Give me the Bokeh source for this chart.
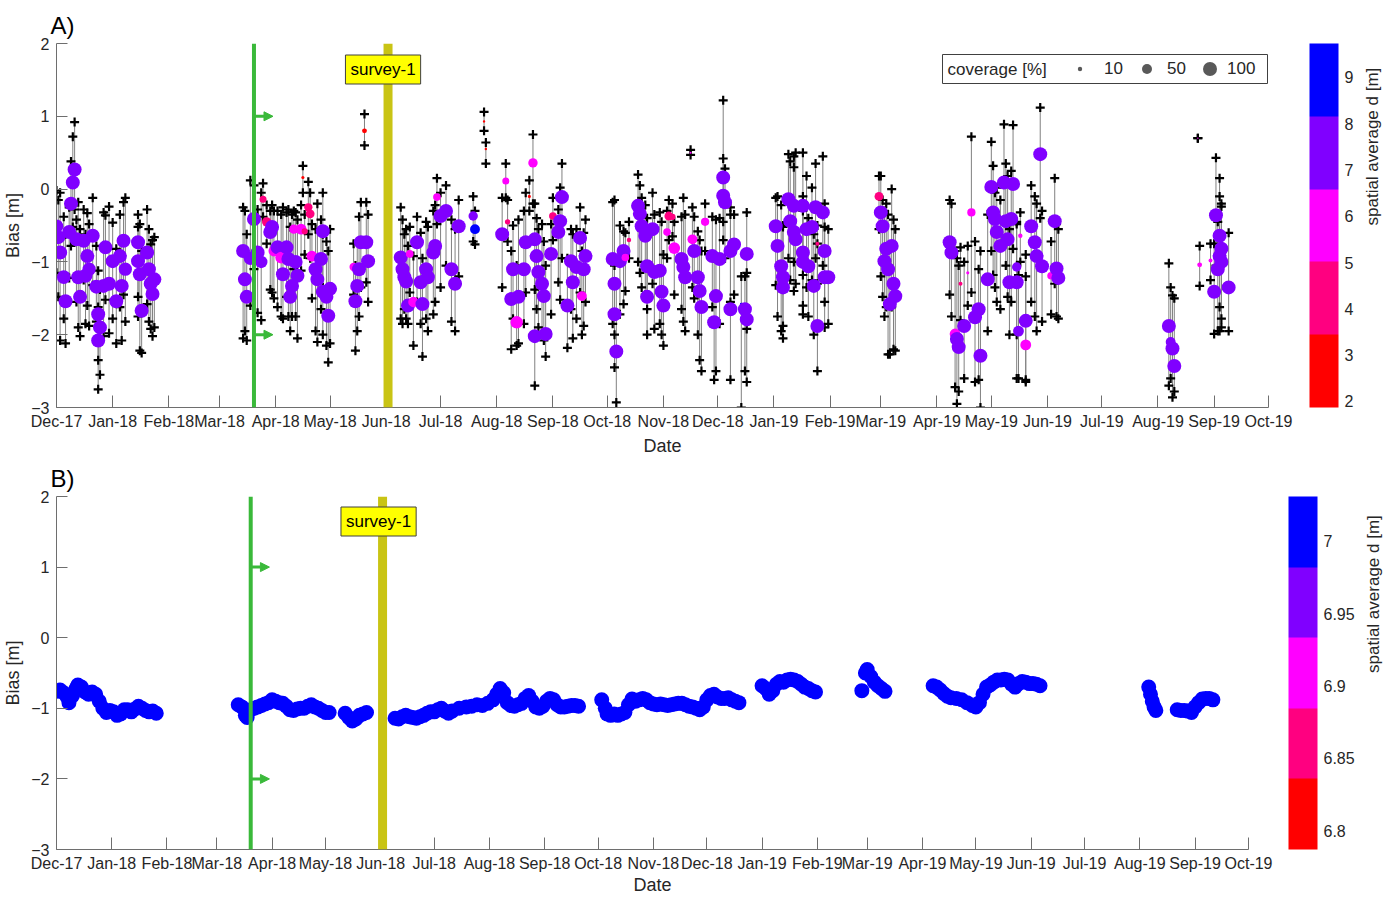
import numpy as np
import pandas as pd
from bokeh.plotting import figure
from bokeh.layouts import column
from bokeh.models import (ColumnDataSource, Range1d, FixedTicker, DatetimeTickFormatter,
                          LinearColorMapper, ColorBar, Span, Arrow, NormalHead, Label,
                          BoxAnnotation, Legend, LegendItem, PrintfTickFormatter, LinearAxis)
from bokeh.embed import file_html
from bokeh.resources import INLINE

# ------------------------------------------------------------------ data
BASE_DATE = "2017-12-01"          # day offsets below count from this date
X_START, X_END = "2017-12-01", "2019-10-01"
MONTH_TICKS = ["2017-12-01", "2018-01-01", "2018-02-01", "2018-03-01", "2018-04-01",
               "2018-05-01", "2018-06-01", "2018-07-01", "2018-08-01", "2018-09-01",
               "2018-10-01", "2018-11-01", "2018-12-01", "2019-01-01", "2019-02-01",
               "2019-03-01", "2019-04-01", "2019-05-01", "2019-06-01", "2019-07-01",
               "2019-08-01", "2019-09-01", "2019-10-01"]
Y_TICKS = [-3, -2, -1, 0, 1, 2]
GREEN_DATE = "2018-03-20"
SURVEY_DATE = "2018-06-02"
SURVEY_TEXT = "survey-1"
ARROW_LEVELS = [1, -2]

# Panel A: one entry per estimate
A_DAY = [0, 1, 2, 4, 5, 7, 8, 9, 10, 11, 12, 13, 15, 16, 17, 18, 20, 22, 23, 24, 23, 26, 27, 29, 31, 33, 35, 36, 37, 38, 45, 45, 46, 47, 50, 51, 52, 53, 54,
         103, 104, 105, 107, 109, 111, 113, 114, 116, 118, 119, 120, 122, 124, 125, 127, 128, 129, 130, 131, 132, 133, 135, 136, 137, 139, 140, 141, 143, 144, 146, 147, 147, 149, 150, 151,
         164, 165, 166, 167, 168, 170, 171, 172,
         190, 191, 192, 193, 194, 195, 197, 199, 201, 202, 204, 205, 208, 209, 210, 212, 215, 218, 220, 222,
         230, 231, 236, 237,
         246, 248, 249, 251, 252, 254, 255, 258, 259, 261, 263, 264, 264, 265, 266, 268, 269, 270, 273, 274, 277, 278, 279, 282, 284, 285, 287, 289, 290, 291, 292,
         307, 308, 308, 309, 311, 313, 314, 316, 321, 322, 323, 325, 326, 326, 329, 330, 333, 334, 335, 337, 338, 340, 341, 345, 346, 347, 350, 351, 352, 354, 355, 356, 358, 362, 364, 363, 366, 368, 368, 369, 372, 372, 374, 378, 380, 381, 381,
         397, 398, 400, 401, 401, 404, 405, 407, 407, 408, 412, 412, 412, 414, 415, 417, 419, 420, 418, 420, 423, 424, 424, 426,
         454, 455, 456, 457, 458, 459, 460, 461, 462, 463,
         493, 494, 496, 497, 498, 499, 501, 503, 505, 507, 509, 510, 514, 516, 517, 518, 519, 521, 523, 524, 525, 526, 527, 528, 530, 530, 531, 532, 535, 535, 538, 540, 541, 543, 544, 549, 551, 552, 553,
         614, 615, 616, 617,
         630, 631, 637, 639, 640, 641, 642, 642, 643, 643, 647]
A_BIAS = [-0.51, -0.66, -0.87, -1.21, -1.54, -0.59, -0.20, 0.09, 0.27, -0.69, -1.21, -1.48, -0.71, -1.19, -0.92, -1.10, -0.64, -1.34, -1.72, -1.90, -2.08, -1.33, -0.80, -1.30, -0.99, -1.54, -0.92, -1.33, -0.71, -1.10, -0.73, -0.99, -1.17, -1.67, -0.87, -1.10, -1.30, -1.44, -1.24,
          -0.85, -1.24, -1.48, -0.95, -0.41, -0.87, -1.00, -0.14, -0.45, -0.59, -0.52, -0.85, -0.80, -0.94, -1.17, -0.80, -0.96, -1.48, -1.33, -0.55, -1.00, -1.19, -0.55, 0.16, -0.58, -0.25, -0.34, -0.92, -1.10, -1.24, -0.96, -0.58, -1.41, -1.48, -1.74, -1.37,
          -1.07, -1.54, -1.33, -1.10, -0.73, 0.80, -0.73, -0.99,
          -0.94, -1.10, -1.21, -1.27, -1.60, -0.89, -1.55, -0.73, -1.28, -1.58, -1.10, -1.21, -0.87, -0.78, -0.11, -0.37, -0.30, -1.10, -1.30, -0.51,
          -0.37, -0.55, 0.93, 0.55,
          -0.62, 0.11, -0.45, -1.51, -1.10, -1.83, -1.48, -1.10, -0.73, -0.10, 0.36, -2.02, -0.69, -0.92, -1.14, -1.30, -1.47, -1.99, -0.89, -0.37, -0.59, -0.44, -0.11, -1.60, -0.99, -1.28, -1.07, -0.67, -1.47, -1.10, -0.92,
          -0.96, -1.30, -1.72, -2.23, -0.99, -0.85, -0.94, -0.70, -0.23, -0.34, -0.51, -0.64, -1.06, -1.48, -0.55, -1.14, -1.12, -1.41, -1.60, -0.59, -0.37, -0.38, -0.81, -0.96, -1.07, -1.21, 0.50, -0.69, -0.85, -1.21, -1.40, -1.62, -0.45, -0.92, -1.47, -1.83, -0.96, -0.09, 0.16, -0.18, -1.65, -0.85, -0.76, -1.58, -1.65, -0.89, -1.79,
          -0.51, -0.78, -1.06, -1.21, -1.35, -0.14, -0.44, -0.23, -0.59, -0.69, -0.23, -0.87, -1.00, -0.55, -1.06, -0.52, -0.25, -0.75, -1.33, -1.88, -0.32, -0.85, -1.21, -1.21,
          -0.10, -0.32, -0.51, -0.99, -0.82, -1.10, -1.58, -0.78, -1.30, -1.47,
          -0.73, -0.87, -1.99, -2.06, -2.17, -1.30, -1.88, -1.15, -0.32, -1.76, -1.65, -2.29, -1.24, 0.03, -0.32, -0.41, -0.59, -0.78, 0.09, -0.44, -0.69, -1.28, -0.41, 0.07, -1.07, -1.28, -1.95, -0.64, -1.81, -2.14, -0.51, -0.73, -0.92, 0.48, -1.06, -1.19, -0.44, -1.09, -1.22,
          -1.88, -2.10, -2.19, -2.43,
          0.70, -1.04, -0.98, -1.41, -0.36, -1.10, -0.64, -0.92, -0.82, -1.00, -1.35]
A_LO = [-1.15, -1.48, -2.08, -1.78, -2.12, -1.22, -0.78, -0.52, -0.28, -1.55, -1.90, -2.02, -1.25, -1.85, -1.60, -1.88, -1.32, -1.82, -2.35, -2.55, -2.75, -2.02, -1.52, -1.98, -1.78, -2.12, -1.62, -2.08, -1.45, -1.82, -1.48, -1.75, -2.22, -2.25, -1.58, -1.82, -1.92, -2.02, -1.90,
        -2.05, -1.95, -2.08, -1.60, -1.10, -1.70, -1.80, -0.38, -0.75, -1.38, -1.42, -1.50, -1.62, -1.75, -1.78, -1.48, -1.75, -1.95, -1.75, -1.10, -1.75, -2.05, -1.12, -0.05, -0.90, -0.62, -0.95, -1.50, -1.95, -2.10, -1.65, -1.35, -2.00, -2.15, -2.38, -2.12,
        -1.45, -2.22, -1.95, -1.75, -1.35, 0.60, -1.28, -1.55,
        -1.78, -1.85, -1.65, -1.78, -1.85, -1.42, -2.15, -1.55, -1.85, -2.30, -1.78, -1.95, -1.72, -1.55, -0.48, -1.35, -1.05, -1.82, -1.95, -1.20,
        -0.72, -0.76, 0.80, 0.35,
        -1.35, -0.12, -0.72, -2.20, -1.78, -2.15, -2.12, -1.85, -1.42, -0.30, -0.20, -2.70, -1.38, -1.65, -1.90, -2.00, -2.08, -2.30, -1.72, -0.70, -1.28, -1.52, -0.95, -2.18, -1.65, -2.05, -1.78, -1.42, -2.00, -1.88, -1.55,
        -1.85, -2.00, -2.45, -2.93, -1.72, -1.58, -1.40, -0.95, -1.00, -1.15, -1.35, -1.45, -1.65, -2.00, -1.30, -1.92, -1.85, -2.00, -2.15, -0.95, -0.70, -0.65, -1.45, -1.65, -1.82, -1.95, 0.47, -1.35, -1.50, -2.00, -2.35, -2.50, -0.85, -1.62, -2.50, -2.62, -1.85, -0.70, -0.45, -0.95, -2.62, -1.55, -1.45, -3.00, -2.50, -1.92, -2.65,
        -1.32, -1.75, -1.95, -1.88, -2.05, -0.95, -1.25, -1.00, -1.40, -1.30, -1.18, -1.60, -1.72, -1.35, -1.75, -1.25, -0.95, -1.30, -2.00, -2.50, -1.05, -1.55, -1.90, -1.85,
        -0.55, -1.20, -1.48, -1.75, -1.62, -2.27, -2.27, -1.62, -2.20, -2.22,
        -1.45, -1.75, -2.72, -2.95, -2.78, -1.80, -2.60, -1.60, -1.42, -2.65, -2.62, -3.00, -1.95, -0.85, -1.18, -1.35, -1.55, -1.65, -0.72, -1.05, -1.48, -2.00, -1.55, -0.82, -2.00, -2.60, -2.60, -1.00, -2.62, -2.65, -1.55, -1.75, -1.95, -0.40, -1.82, -1.72, -1.30, -1.75, -1.78,
        -2.70, -2.60, -2.86, -2.78,
        0.70, -1.33, -1.25, -1.99, -1.05, -1.95, -1.62, -1.95, -1.78, -1.90, -1.95]
A_HI = [-0.02, -0.15, -0.05, -0.38, -0.62, -0.25, 0.38, 0.72, 0.92, -0.42, -0.18, -0.55, -0.28, -0.62, -0.33, -0.48, -0.12, -0.78, -1.12, -1.38, -1.62, -0.32, -0.36, -0.24, -0.46, -0.82, -0.35, -0.72, -0.18, -0.12, -0.35, -0.52, -0.48, -0.85, -0.28, -0.55, -0.76, -0.70, -0.66,
        -0.25, -0.30, -0.62, 0.12, 0.05, -0.28, -0.05, 0.08, -0.22, -0.30, -0.22, -0.30, -0.30, -0.35, -0.25, -0.32, -0.28, -0.52, -0.35, -0.30, -0.32, -0.42, -0.22, 0.32, -0.35, 0.10, -0.05, -0.48, -0.55, -0.20, -0.42, -0.05, -0.62, -0.72, -0.85, -0.55,
        -0.75, -1.05, -0.72, -0.38, -0.18, 1.03, -0.18, -0.35,
        -0.25, -0.42, -0.62, -0.55, -0.78, -0.52, -0.92, -0.38, -0.60, -0.95, -0.45, -0.52, -0.30, -0.22, 0.15, -0.05, 0.05, -0.42, -0.55, -0.15,
        -0.10, -0.30, 1.06, 0.64,
        -0.12, 0.35, -0.15, -0.85, -0.50, -1.05, -0.42, -0.30, -0.05, 0.12, 0.75, -0.92, -0.20, -0.40, -0.55, -0.48, -0.72, -1.05, -0.48, -0.12, -0.28, 0.02, 0.35, -0.95, -0.55, -0.62, -0.55, -0.25, -0.85, -0.60, -0.42,
        -0.18, -0.15, -1.05, -1.30, -0.50, -0.58, -0.60, -0.45, 0.20, 0.05, -0.12, -0.22, -0.40, -0.65, -0.05, -0.35, -0.32, -0.45, -0.90, -0.30, -0.15, -0.20, -0.45, -0.38, -0.12, -0.35, 0.54, -0.25, -0.38, -0.58, -0.70, -0.85, -0.20, -0.38, -0.42, -0.95, -0.40, 0.42, 1.22, 0.28, -0.25, -0.35, -0.35, -1.20, -1.20, -0.32, -1.15,
        -0.12, -0.10, -0.22, -0.52, -0.50, 0.48, 0.38, 0.45, 0.30, 0.50, 0.50, -0.10, -0.30, 0.18, -0.40, 0.02, 0.35, -0.50, -0.62, -0.75, 0.45, -0.20, -0.52, -0.55,
        0.18, 0.18, -0.15, -0.30, -0.20, -0.35, -0.80, 0.00, -0.42, -0.55,
        -0.15, -0.20, -0.85, -0.95, -1.05, -0.80, -1.00, -0.78, 0.72, -0.72, -1.10, -0.85, -0.35, 0.65, 0.32, -0.05, 0.02, -0.15, 0.89, 0.35, 0.18, -0.55, 0.25, 0.88, -0.48, -0.45, -1.18, -0.32, -0.90, -1.20, 0.05, -0.10, -0.20, 1.12, -0.30, -0.72, 0.15, -0.48, -0.55,
        -1.02, -1.35, -1.46, -1.50,
        0.70, -0.78, -0.75, -0.75, 0.43, -0.45, 0.15, -0.10, -0.20, -0.24, -0.60]
A_COV = [95, 100, 100, 95, 100, 100, 100, 100, 100, 100, 100, 100, 100, 100, 100, 90, 100, 100, 100, 100, 100, 100, 100, 100, 100, 100, 100, 100, 100, 90, 100, 100, 100, 100, 100, 100, 100, 100, 100,
         100, 100, 100, 90, 100, 100, 80, 25, 45, 100, 100, 60, 100, 70, 100, 100, 100, 100, 100, 45, 100, 100, 60, 5, 20, 35, 40, 60, 100, 100, 100, 100, 100, 100, 100, 100,
         35, 100, 100, 100, 100, 12, 100, 100,
         100, 100, 100, 100, 100, 30, 55, 100, 100, 100, 100, 100, 100, 100, 30, 100, 100, 100, 100, 100,
         45, 50, 3, 3,
         100, 25, 15, 100, 100, 80, 100, 100, 100, 5, 45, 100, 100, 100, 100, 100, 100, 100, 100, 30, 100, 100, 100, 100, 100, 100, 100, 100, 50, 100, 100,
         100, 100, 100, 100, 100, 100, 30, 10, 100, 100, 100, 100, 100, 100, 100, 100, 100, 100, 100, 30, 40, 20, 70, 100, 100, 100, 2, 50, 100, 100, 100, 100, 35, 100, 100, 100, 100, 100, 100, 100, 100, 100, 100, 4, 100, 100, 100,
         100, 100, 100, 100, 100, 100, 100, 100, 100, 100, 100, 100, 100, 100, 100, 100, 100, 8, 100, 100, 100, 100, 100, 100,
         40, 100, 100, 100, 100, 100, 100, 100, 100, 100,
         100, 100, 60, 100, 100, 8, 100, 5, 35, 100, 100, 100, 100, 100, 100, 100, 100, 100, 100, 100, 100, 100, 100, 100, 45, 100, 60, 10, 100, 60, 100, 100, 100, 100, 100, 30, 100, 100, 100,
         100, 50, 100, 100,
         1, 12, 8, 100, 100, 100, 100, 100, 100, 100, 100]
A_D = [7.3, 7.3, 7.2, 7.3, 7.4, 7.3, 7.2, 7.3, 7.3, 7.3, 7.3, 7.2, 7.3, 7.3, 7.3, 7.3, 7.3, 7.3, 7.3, 7.3, 7.3, 7.3, 7.3, 7.3, 7.3, 7.3, 7.3, 7.3, 7.3, 7.3, 7.3, 7.3, 7.3, 7.3, 7.3, 7.3, 7.3, 7.3, 7.3,
       7.3, 7.3, 7.3, 7.3, 7.3, 7.3, 7.3, 4.5, 4.5, 7.3, 7.3, 5.8, 7.3, 5.8, 7.3, 7.3, 7.3, 7.3, 7.3, 6.0, 7.3, 7.3, 6.0, 3.0, 4.2, 4.4, 4.6, 5.8, 7.3, 7.3, 7.3, 7.3, 7.3, 7.3, 7.3, 7.3,
       6.0, 7.3, 7.3, 7.3, 7.3, 2.6, 7.3, 7.3,
       7.3, 7.3, 7.3, 7.3, 7.3, 6.0, 5.8, 7.3, 7.3, 7.3, 7.3, 7.3, 7.3, 7.3, 6.1, 7.3, 7.3, 7.3, 7.3, 7.3,
       7.3, 8.6, 2.5, 3.2,
       7.3, 6.0, 4.8, 7.3, 7.3, 6.0, 7.3, 7.3, 7.3, 3.2, 6.0, 7.3, 7.3, 7.3, 7.3, 7.3, 7.3, 7.3, 7.3, 4.8, 7.3, 7.3, 7.3, 7.3, 7.3, 7.3, 7.3, 7.3, 6.0, 7.3, 7.3,
       7.3, 7.3, 7.3, 7.3, 7.3, 7.3, 6.0, 4.5, 7.3, 7.3, 7.3, 7.3, 7.3, 7.3, 7.3, 7.3, 7.3, 7.3, 7.3, 6.0, 4.5, 4.5, 6.0, 7.3, 7.3, 7.3, 6.0, 6.0, 7.3, 7.3, 7.3, 7.3, 6.0, 7.3, 7.3, 7.3, 7.3, 7.3, 7.3, 7.3, 7.3, 7.3, 7.3, 8.5, 7.3, 7.3, 7.3,
       7.3, 7.3, 7.3, 7.3, 7.3, 7.3, 7.3, 7.3, 7.3, 7.3, 7.3, 7.3, 7.3, 7.3, 7.3, 7.3, 7.3, 4.5, 7.3, 7.3, 7.3, 7.3, 7.3, 7.3,
       4.5, 7.3, 7.3, 7.3, 7.3, 7.3, 7.3, 7.3, 7.3, 7.3,
       7.3, 7.3, 6.2, 7.3, 7.3, 4.5, 7.3, 6.5, 6.0, 7.3, 7.3, 7.3, 7.3, 7.3, 7.3, 7.3, 7.3, 7.3, 7.3, 7.3, 7.3, 7.3, 7.3, 7.3, 7.3, 7.3, 7.3, 6.0, 7.3, 6.0, 7.3, 7.3, 7.3, 7.3, 7.3, 6.0, 7.3, 7.3, 7.3,
       7.3, 7.3, 7.3, 7.3,
       6.0, 5.5, 6.0, 7.3, 7.3, 7.3, 7.3, 7.3, 7.3, 7.3, 7.3]

# Panel B
B_DAY = [0, 2, 4, 6, 7, 9, 11, 12, 14, 16, 18, 20, 22, 24, 26, 28, 30, 32, 34, 36, 38, 40, 42, 44, 46, 48, 50, 52, 54, 56,
         102, 104, 106, 107, 109, 111, 113, 115, 117, 119, 121, 123, 125, 127, 129, 131, 133, 135, 137, 139, 141, 143, 145, 147, 149, 151, 153,
         162, 164, 166, 168, 170, 172, 174,
         190, 192, 194, 196, 198, 200, 202, 204, 206, 208, 210, 212, 214, 216, 218, 220, 222, 226, 230, 233, 236, 239, 242, 245,
         247, 249, 251, 253, 255, 257, 259, 261, 263, 265, 267, 269, 271, 273, 275, 277, 279, 281, 283, 285, 287, 289, 291, 293,
         306, 308, 309, 311, 313, 315, 317, 319, 321, 323, 325, 327, 329, 331, 333, 335, 337, 339, 341, 343, 345, 347, 349, 351, 353, 355, 357, 359, 361, 363, 365, 367, 369, 371, 373, 375, 377, 379, 381, 383,
         396, 398, 400, 402, 404, 406, 408, 410, 412, 414, 416, 418, 420, 422, 424, 426,
         452, 454, 455, 457, 459, 461, 463, 465,
         492, 494, 496, 498, 500, 502, 505, 508, 511, 514, 516, 518, 520, 522, 524, 526, 528, 530, 532, 534, 536, 538, 540, 542, 544, 546, 548, 550, 552,
         613, 614, 615, 616, 617,
         629, 631, 633, 635, 637, 639, 641, 643, 645, 647, 649]
B_BIAS = [-0.76, -0.74, -0.78, -0.84, -0.92, -0.82, -0.72, -0.67, -0.70, -0.77, -0.80, -0.77, -0.80, -0.90, -1.00, -1.06, -1.03, -1.05, -1.10, -1.08, -1.02, -1.02, -1.05, -1.01, -0.97, -1.00, -1.03, -1.05, -1.04, -1.07,
          -0.95, -0.98, -1.10, -1.13, -1.02, -1.00, -0.98, -0.96, -0.94, -0.92, -0.88, -0.90, -0.92, -0.93, -0.97, -1.02, -1.03, -1.01, -1.00, -1.00, -0.97, -0.95, -0.98, -1.00, -1.03, -1.06, -1.06,
          -1.07, -1.13, -1.18, -1.15, -1.10, -1.08, -1.06,
          -1.14, -1.15, -1.12, -1.10, -1.12, -1.13, -1.14, -1.12, -1.10, -1.07, -1.05, -1.05, -1.02, -1.00, -1.04, -1.07, -1.04, -1.00, -0.98, -0.97, -0.95, -0.96, -0.93, -0.88,
          -0.80, -0.72, -0.78, -0.92, -0.96, -0.97, -0.95, -0.93, -0.86, -0.82, -0.90, -0.98, -1.00, -0.97, -0.90, -0.86, -0.88, -0.95, -0.98, -0.98, -0.97, -0.96, -0.96, -0.97,
          -0.88, -1.00, -1.08, -1.10, -1.08, -1.10, -1.08, -1.06, -0.95, -0.87, -0.90, -0.88, -0.86, -0.88, -0.92, -0.94, -0.95, -0.94, -0.95, -0.96, -0.95, -0.94, -0.93, -0.93, -0.95, -0.97, -0.98, -1.00, -1.02, -0.98, -0.88, -0.82, -0.80, -0.84, -0.86, -0.86, -0.85, -0.88, -0.90, -0.92,
          -0.68, -0.72, -0.80, -0.75, -0.66, -0.62, -0.63, -0.60, -0.59, -0.60, -0.62, -0.66, -0.70, -0.72, -0.75, -0.77,
          -0.75, -0.50, -0.45, -0.55, -0.63, -0.68, -0.72, -0.76,
          -0.68, -0.70, -0.74, -0.79, -0.83, -0.85, -0.86, -0.88, -0.92, -0.96, -0.98, -0.92, -0.80, -0.70, -0.67, -0.63, -0.60, -0.60, -0.59, -0.60, -0.66, -0.70, -0.65, -0.62, -0.63, -0.65, -0.65, -0.66, -0.68,
          -0.70, -0.80, -0.90, -0.98, -1.03,
          -1.02, -1.03, -1.03, -1.04, -1.06, -0.98, -0.92, -0.87, -0.86, -0.86, -0.88]
B_COVERAGE = 100          # every panel-B estimate has full coverage
B_D = 7.01                # spatial average d of panel B estimates

# colour bars
CB_A_TICKS = [2, 3, 4, 5, 6, 7, 8, 9]
CB_A_LOW, CB_A_HIGH = 1.87, 9.73
CB_B_TICKS = [6.8, 6.85, 6.9, 6.95, 7.0]
CB_B_LOW, CB_B_HIGH = 6.787, 7.031
LEG_COV = [10, 50, 100]
LEG_LABELS = ["10", "50", "100"]

# ------------------------------------------------------------------ style
FONT = "Liberation Sans"
TXT = "#262626"
AXC = "#6E6E6E"
GREEN = "#3AB93A"
OLIVE = "#C9C414"
PALETTE = ["#FF0000", "#FF0080", "#FF00FF", "#8000FF", "#0000FF"]
DAY_MS = 86400000.0
ARROW_DAYS = 10.5


def ms(s):
    return pd.Timestamp(s).timestamp() * 1000.0


def to_dt(days):
    return pd.Timestamp(BASE_DATE) + pd.to_timedelta(np.asarray(days, dtype=float), unit="D")


def msize(cov):
    return 1.4 * np.sqrt(np.asarray(cov, dtype=float))


def base_fig(fw, fh, left, right, top, bottom, xstand, xlabstand, panel_title, title_standoff):
    p = figure(x_axis_type="datetime", x_range=Range1d(ms(X_START), ms(X_END)),
               y_range=Range1d(min(Y_TICKS), max(Y_TICKS)),
               frame_width=fw, frame_height=fh, min_border_left=left, min_border_right=right,
               min_border_top=top, min_border_bottom=bottom, output_backend="svg",
               toolbar_location=None, tools="")
    p.outline_line_color = None
    p.background_fill_color = "white"
    p.border_fill_color = "white"
    p.xgrid.visible = False
    p.ygrid.visible = False
    p.title.text = panel_title
    p.title.align = "left"
    p.title.offset = -6
    p.title.standoff = title_standoff
    p.title.text_font = FONT
    p.title.text_font_size = "24px"
    p.title.text_font_style = "normal"
    p.title.text_color = "black"
    xa, ya = p.xaxis[0], p.yaxis[0]
    xa.ticker = FixedTicker(ticks=[ms(m) for m in MONTH_TICKS])
    xa.formatter = DatetimeTickFormatter(days="%b-%y", months="%b-%y", years="%b-%y")
    ya.ticker = FixedTicker(ticks=Y_TICKS)
    xa.axis_label = "Date"
    ya.axis_label = "Bias [m]"
    for ax in (xa, ya):
        ax.axis_line_color = AXC
        ax.axis_line_width = 1
        ax.major_tick_line_color = AXC
        ax.major_tick_out = 0
        ax.minor_tick_line_color = None
        ax.major_label_text_font = FONT
        ax.major_label_text_font_size = "16px"
        ax.major_label_text_color = TXT
        ax.axis_label_text_font = FONT
        ax.axis_label_text_font_size = "18px"
        ax.axis_label_text_font_style = "normal"
        ax.axis_label_text_color = TXT
    xa.major_tick_in = 12
    ya.major_tick_in = 11
    xa.major_label_standoff = xstand
    xa.axis_label_standoff = xlabstand
    ya.major_label_standoff = 7
    ya.axis_label_standoff = 5
    return p


def add_events(p, fh, label_dy, label_dx):
    p.add_layout(Span(location=ms(GREEN_DATE), dimension="height", line_color=GREEN, line_width=4))
    p.add_layout(Span(location=ms(SURVEY_DATE), dimension="height", line_color=OLIVE, line_width=9))
    for yv in ARROW_LEVELS:
        p.add_layout(Arrow(end=NormalHead(size=9, fill_color=GREEN, line_color=GREEN, line_width=1),
                           x_start=ms(GREEN_DATE), y_start=yv,
                           x_end=ms(GREEN_DATE) + ARROW_DAYS * DAY_MS, y_end=yv,
                           line_color=GREEN, line_width=3))
    p.add_layout(Label(x=ms(SURVEY_DATE), y=fh - label_dy, y_units="screen", x_offset=label_dx,
                       text=SURVEY_TEXT, text_align="center", text_baseline="middle",
                       text_font=FONT, text_font_size="17px", text_color="black",
                       background_fill_color="#FFFF00", border_line_color="#404040",
                       border_line_width=1, padding=5))


def add_colorbar(p, mapper, ticks, fh, cb_x, title_standoff, fmt=None):
    kw = dict(color_mapper=mapper, ticker=FixedTicker(ticks=ticks), location=(cb_x, 0),
              orientation="vertical", width=29, height=fh, padding=0, margin=0,
              label_standoff=6, major_label_text_font=FONT, major_label_text_font_size="16px",
              major_label_text_color=TXT, major_tick_line_color=None,
              minor_tick_line_color=None, bar_line_color=None, border_line_color=None,
              background_fill_alpha=0)
    if fmt is not None:
        kw["formatter"] = fmt
    p.add_layout(ColorBar(**kw))
    # title of the colour bar, carried by a bare axis on the right side
    ttl = LinearAxis(ticker=FixedTicker(ticks=[]), axis_label="spatial average d [m]",
                     axis_label_orientation=np.pi / 2, axis_line_color=None,
                     major_tick_line_color=None, minor_tick_line_color=None,
                     major_tick_in=0, major_tick_out=0, major_label_standoff=0,
                     major_label_text_font_size="0px", axis_label_standoff=title_standoff,
                     axis_label_text_font=FONT, axis_label_text_font_size="17px",
                     axis_label_text_font_style="normal", axis_label_text_color=TXT)
    p.add_layout(ttl, "right")


# ------------------------------------------------------------------ panel A
FW_A, FH_A = 1212, 364
pA = base_fig(FW_A, FH_A, 48, 118, 43, 50, 5, 3, "A)", 9)
mapA = LinearColorMapper(palette=PALETTE, low=CB_A_LOW, high=CB_A_HIGH)
srcA = ColumnDataSource(dict(t=to_dt(A_DAY), bias=A_BIAS, lo=A_LO, hi=A_HI, d=A_D,
                             size=msize(A_COV)))
pA.segment(x0="t", y0="lo", x1="t", y1="hi", source=srcA, line_color="#808080", line_width=1)
pA.scatter(x="t", y="lo", source=srcA, marker="cross", size=9, line_color="black", line_width=2.2)
pA.scatter(x="t", y="hi", source=srcA, marker="cross", size=9, line_color="black", line_width=2.2)
pA.scatter(x="t", y="bias", source=srcA, size="size", line_color=None,
           fill_color={"field": "d", "transform": mapA})
add_events(pA, FH_A, 26, -5)
add_colorbar(pA, mapA, CB_A_TICKS, FH_A, 1253, 104)

# coverage legend (kept inside the axes frame)
pA.add_layout(BoxAnnotation(left=886, right=1211, bottom=324, top=353,
                            left_units="screen", right_units="screen",
                            top_units="screen", bottom_units="screen",
                            fill_color="white", fill_alpha=1.0,
                            line_color="#404040", line_width=1, line_alpha=1.0))
pA.add_layout(Label(x=891, y=338.5, x_units="screen", y_units="screen", text="coverage [%]",
                    text_baseline="middle", text_font=FONT, text_font_size="17px", text_color=TXT))
leg_left = [1018, 1078, 1136]
leg_standoff = [19, 8, 0]
for cov, lab, lx, so in zip(LEG_COV, LEG_LABELS, leg_left, leg_standoff):
    sz = float(msize(cov))
    r = pA.scatter(x=[ms(X_START)], y=[np.nan], size=sz, fill_color="#595959", line_color=None)
    gw = int(round(sz / 0.4))
    pA.add_layout(Legend(items=[LegendItem(label=lab, renderers=[r])], location=(lx, 321),
                         orientation="horizontal", glyph_width=gw, glyph_height=35,
                         label_standoff=so, padding=0, margin=0, spacing=0,
                         border_line_color=None, background_fill_alpha=0,
                         label_text_font=FONT, label_text_font_size="17px",
                         label_text_color=TXT))

# ------------------------------------------------------------------ panel B
FW_B, FH_B = 1192, 353
pB = base_fig(FW_B, FH_B, 47, 139, 38, 45, 5, 0, "B)", 9)
mapB = LinearColorMapper(palette=PALETTE, low=CB_B_LOW, high=CB_B_HIGH)
srcB = ColumnDataSource(dict(t=to_dt(B_DAY), bias=B_BIAS,
                             d=[B_D] * len(B_DAY)))
pB.scatter(x="t", y="bias", source=srcB, size=float(msize(B_COVERAGE)) + 1, line_color=None,
           fill_color={"field": "d", "transform": mapB})
add_events(pB, FH_B, 25, -4)
add_colorbar(pB, mapB, CB_B_TICKS, FH_B, 1232, 125, PrintfTickFormatter(format="%g"))

layout = column(pA, pB)
open("out.html", "w").write(file_html(layout, INLINE))
